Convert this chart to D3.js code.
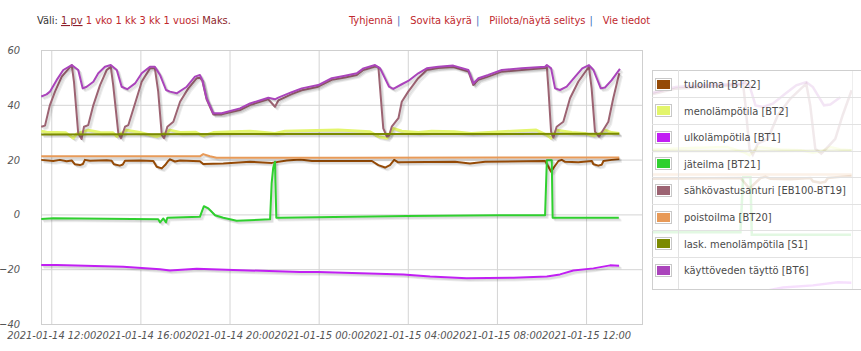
<!DOCTYPE html>
<html>
<head>
<meta charset="utf-8">
<script src="https://cdn.jsdelivr.net/npm/d3@7"></script>
<style>
body{margin:0;background:#fff;}
svg{display:block;}
</style>
</head>
<body>
<div id="chart"></div>
<script>
// data points: [hours since 2021-01-14 00:00, °C]
const tuloilma = [[11.55,19.9],[12.09,19.5],[12.39,19.9],[12.69,19.4],[12.92,19.7],[13.06,18.3],[13.29,18.0],[13.42,18.4],[13.51,19.9],[13.74,19.6],[14.49,19.8],[14.71,19.6],[14.81,18.3],[15.08,17.8],[15.21,18.2],[15.31,19.6],[15.98,19.7],[16.58,19.5],[16.73,17.4],[16.96,16.8],[17.11,18.0],[17.25,19.5],[17.33,20.1],[17.55,19.3],[17.78,19.7],[18.67,19.4],[18.82,18.4],[19.72,18.6],[20.92,19.2],[21.9,18.8],[22.57,19.7],[23.17,20.0],[23.7,19.5],[26.39,19.5],[26.68,18.0],[26.98,17.1],[27.2,18.0],[27.39,19.9],[27.57,19.0],[30.12,19.2],[30.79,18.6],[31.47,19.2],[34.16,19.5],[34.31,17.4],[34.43,15.6],[34.56,17.2],[34.76,19.5],[34.91,19.9],[35.06,19.2],[35.65,19.0],[36.26,19.5],[36.33,18.3],[36.55,17.8],[36.7,18.1],[36.78,19.5],[37.15,19.9],[37.49,20.2]];
const menolampotila = [[11.55,30.4],[11.79,30.0],[12.66,29.8],[12.99,27.8],[13.14,29.4],[13.66,30.8],[14.19,29.9],[14.77,29.8],[14.94,28.4],[15.08,29.2],[15.38,30.8],[15.98,29.9],[16.73,28.4],[16.97,29.0],[17.33,30.8],[17.78,29.9],[18.49,30.0],[18.82,28.7],[19.27,29.9],[20.17,30.2],[20.92,30.4],[22.04,29.6],[22.49,30.4],[24.88,30.8],[26.3,30.2],[26.68,28.4],[27.06,27.8],[27.35,31.4],[27.73,30.4],[28.47,29.9],[29.07,30.4],[30.09,30.2],[30.84,29.6],[32.67,30.4],[33.76,30.8],[34.24,29.0],[34.43,27.8],[34.68,30.8],[35.36,29.9],[35.95,29.6],[36.33,28.7],[36.58,29.2],[36.85,30.8],[37.15,29.9],[37.49,29.6]];
const ulkolampotila = [[11.55,-18.5],[12.24,-18.5],[15.23,-19.1],[16.88,-20.0],[17.33,-20.5],[18.53,-19.8],[20.17,-20.3],[23.16,-21.0],[23.98,-21.0],[27.8,-21.9],[29.0,-22.7],[30.64,-23.3],[32.74,-23.1],[34.24,-22.7],[34.83,-21.9],[35.43,-20.5],[36.33,-19.7],[37.08,-18.6],[37.48,-18.7]];
const jateilma = [[11.55,-1.7],[12.09,-1.4],[16.8,-1.8],[16.88,-2.9],[17.03,-1.5],[17.15,-2.9],[17.21,-1.2],[18.67,-0.9],[18.85,3.0],[19.05,2.2],[19.35,-0.3],[19.72,-1.2],[20.32,-2.3],[21.82,-1.8],[21.89,11.3],[21.96,17.0],[22.04,19.2],[22.1,-1.2],[22.26,-1.2],[27.95,-0.6],[31.99,-0.3],[34.16,-0.3],[34.24,19.8],[34.46,19.8],[34.5,-1.2],[37.47,-1.2]];
const sahkovastus = [[11.55,32.0],[11.72,32.4],[11.94,39.9],[12.17,44.8],[12.47,50.3],[12.92,54.5],[13.02,48.4],[13.21,29.6],[13.36,27.5],[13.47,32.0],[13.66,32.6],[13.89,39.9],[14.19,47.2],[14.49,52.7],[14.67,53.9],[14.78,47.2],[15.01,29.6],[15.13,27.8],[15.31,32.0],[15.46,32.6],[15.76,40.5],[16.06,48.4],[16.43,53.3],[16.65,53.3],[16.8,44.8],[16.96,29.0],[17.06,27.8],[17.21,32.0],[17.48,33.8],[17.78,41.1],[18.15,46.0],[18.53,49.7],[18.67,49.9],[18.78,48.8],[18.97,42.0],[19.27,36.5],[19.65,36.5],[20.47,38.1],[20.92,39.9],[21.74,42.0],[22.04,39.3],[22.19,41.6],[22.79,43.9],[23.24,45.3],[23.98,46.6],[24.59,49.1],[25.18,50.0],[25.71,50.9],[26.01,52.7],[26.53,54.0],[26.68,53.8],[26.9,31.4],[27.06,28.4],[27.16,28.8],[27.28,32.0],[27.58,35.1],[27.73,41.1],[28.02,44.8],[28.47,49.7],[28.85,52.7],[29.37,53.4],[30.04,53.8],[30.72,52.1],[30.94,47.2],[31.17,49.1],[31.61,50.3],[32.22,52.1],[33.11,52.7],[34.16,53.4],[34.24,53.8],[34.31,46.0],[34.43,30.2],[34.53,28.0],[34.68,32.0],[34.98,33.8],[35.28,42.4],[35.65,48.4],[36.13,53.9],[36.25,46.0],[36.4,30.2],[36.58,28.4],[36.77,30.8],[37.0,33.8],[37.22,42.4],[37.49,51.5]];
const poistoilma = [[11.55,21.2],[16.43,21.2],[18.67,21.2],[18.82,22.0],[19.12,21.2],[19.42,20.7],[25.41,20.7],[32.13,20.8],[37.49,20.8]];
const laskMeno = [[11.55,29.2],[20.0,29.3],[30.0,29.3],[37.49,29.4]];
const kayttovesi = [[11.55,43.0],[11.79,43.8],[11.94,44.8],[12.24,49.0],[12.54,52.7],[12.92,54.5],[13.21,52.7],[13.41,46.0],[13.59,46.6],[13.89,48.4],[14.11,51.5],[14.41,53.9],[14.67,54.5],[14.94,52.7],[15.16,46.6],[15.41,45.7],[15.76,47.8],[16.06,51.5],[16.43,53.9],[16.65,53.9],[16.88,50.9],[17.15,45.4],[17.33,44.8],[17.63,44.2],[18.08,46.6],[18.45,50.3],[18.67,50.9],[18.78,49.0],[18.97,42.4],[19.27,36.9],[19.65,36.9],[20.47,38.7],[20.92,40.5],[21.74,42.6],[22.04,42.0],[22.19,42.6],[22.79,44.6],[23.24,46.0],[23.98,47.2],[24.59,49.7],[25.18,50.6],[25.71,51.5],[26.01,53.3],[26.53,54.5],[26.76,53.3],[27.16,46.6],[27.35,45.8],[27.73,47.5],[28.02,48.7],[28.47,51.5],[28.85,53.3],[29.37,53.9],[30.04,54.3],[30.72,52.7],[30.94,47.8],[31.17,49.7],[31.61,50.9],[32.22,52.7],[33.11,53.3],[34.16,53.9],[34.24,54.5],[34.43,53.3],[34.61,46.0],[34.83,45.4],[35.13,46.6],[35.51,50.3],[35.83,53.3],[36.13,54.5],[36.33,52.7],[36.66,46.0],[36.85,46.3],[37.15,49.0],[37.52,53.1]];

const seriesData = [tuloilma, menolampotila, ulkolampotila, jateilma, sahkovastus, poistoilma, laskMeno, kayttovesi];
const seriesNames = ["tuloilma [BT22]","menolämpötila [BT2]","ulkolämpötila [BT1]","jäteilma [BT21]","sähkövastusanturi [EB100-BT19]","poistoilma [BT20]","lask. menolämpötila [S1]","käyttöveden täyttö [BT6]"];
const seriesColors = ["#954a06","#e3f56c","#c11ff3","#2fd02f","#9c6372","#e89a58","#7b8a00","#aa44bb"];
const yTicks = [-40,-20,0,20,40,60];
const xTickHours = [12,16,20,24,28,32,36];
const xDomainHours = [11.54,38.51];
const rangeLinks = ["1 pv","1 vko","1 kk","3 kk","1 vuosi","Maks."];
const actionLinks = ["Tyhjennä","Sovita käyrä","Piilota/näytä selitys","Vie tiedot"];

const W = 861, H = 351;
const plot = {l:41, t:50, r:642, b:324};
const base = new Date(2021,0,14).getTime();
const toDate = h => new Date(base + h*3600e3);
const font = "'DejaVu Sans Condensed','DejaVu Sans',sans-serif";

const svg = d3.select("#chart").append("svg")
    .attr("width",W).attr("height",H)
    .style("font-family",font);

const x = d3.scaleTime().domain(xDomainHours.map(toDate)).range([plot.l,plot.r]);
const y = d3.scaleLinear().domain([-40,60]).range([plot.b,plot.t]);

// header
let head = svg.append("text").attr("x",37).attr("y",24).attr("font-size",11);
head.append("tspan").attr("fill","#333").text("Väli: ");
rangeLinks.forEach((t,i)=>{
    let ts = head.append("tspan").text((i>0?" ":"")+t)
        .attr("fill", (i==0||i==rangeLinks.length-1) ? "#8e1f2c" : "#c0282d");
    if (i==0) ts.attr("text-decoration","underline");
});
let acts = svg.append("text").attr("x",349).attr("y",24).attr("font-size",11);
actionLinks.forEach((t,i)=>{
    if (i>0){
        acts.append("tspan").attr("dx",4).attr("fill","#3a6fc0").text("|");
        acts.append("tspan").attr("dx",10).attr("fill","#c0282d").text(t);
    } else {
        acts.append("tspan").attr("fill","#c0282d").text(t);
    }
});

// grid
svg.append("g")
    .attr("transform",`translate(0,${plot.b})`)
    .call(d3.axisBottom(x).tickValues(xTickHours.map(toDate)).tickSize(-(plot.b-plot.t)).tickFormat(""))
    .call(g=>g.select(".domain").remove())
    .selectAll("line").attr("stroke","#d4d4d4");
svg.append("g")
    .attr("transform",`translate(${plot.l},0)`)
    .call(d3.axisLeft(y).tickValues(yTicks).tickSize(-(plot.r-plot.l)).tickFormat(""))
    .call(g=>g.select(".domain").remove())
    .selectAll("line").attr("stroke","#d4d4d4");
svg.append("rect")
    .attr("x",plot.l+0.5).attr("y",plot.t+0.5)
    .attr("width",plot.r-plot.l).attr("height",plot.b-plot.t)
    .attr("fill","none").attr("stroke","#cfcfcf");

// axis labels
let xAxis = svg.append("g")
    .attr("transform",`translate(0,${plot.b})`)
    .call(d3.axisBottom(x).tickValues(xTickHours.map(toDate))
        .tickFormat(d3.timeFormat("%Y-%m-%d %H:%M")).tickSize(0).tickPadding(7));
xAxis.select(".domain").remove();
xAxis.selectAll("text").attr("fill","#555")
    .style("font-size","11px").style("font-style","italic").style("font-family",font);
let yAxis = svg.append("g")
    .attr("transform",`translate(${plot.l},0)`)
    .call(d3.axisLeft(y).tickValues(yTicks).tickSize(0).tickPadding(21));
yAxis.select(".domain").remove();
yAxis.selectAll("text").attr("fill","#555")
    .style("font-size","11px").style("font-style","italic").style("font-family",font);

// lines
svg.append("clipPath").attr("id","plotclip").append("rect")
    .attr("x",plot.l).attr("y",plot.t-10).attr("width",plot.r-plot.l).attr("height",plot.b-plot.t+10);
let line = d3.line().x(d=>x(toDate(d[0]))).y(d=>y(d[1]));
let lines = svg.append("g").attr("clip-path","url(#plotclip)");
seriesData.forEach((s,i)=>{
    for (let k=1;k<=3;k++){
        lines.append("path").attr("d",line(s))
            .attr("transform",`translate(${k*0.9},${k*0.9})`)
            .attr("fill","none").attr("stroke","#000").attr("stroke-opacity",0.07)
            .attr("stroke-width",2).attr("stroke-linejoin","round");
    }
    lines.append("path").attr("d",line(s))
        .attr("fill","none").attr("stroke",seriesColors[i])
        .attr("stroke-width", i==1 ? 2.8 : 2).attr("stroke-linejoin","round");
});

// legend (sits over a wider copy of the chart)
const lg = {x:652, y:70, w:220, h:219, rowH:26.6, row0:70.7};
svg.append("clipPath").attr("id","legclip").append("rect")
    .attr("x",lg.x).attr("y",lg.y).attr("width",lg.w).attr("height",lg.h);
let x2 = d3.scaleTime().domain(x.domain()).range([852-(37.5-xDomainHours[0])*33.4, 852+(xDomainHours[1]-37.5)*33.4]);
let line2 = d3.line().x(d=>x2(toDate(d[0]))).y(d=>y(d[1])+17);
let ghost = svg.append("g").attr("clip-path","url(#legclip)");
ghost.append("rect").attr("x",lg.x).attr("y",lg.y).attr("width",lg.w).attr("height",lg.h).attr("fill","#fff");
seriesData.forEach((s,i)=>{
    ghost.append("path").attr("d",line2(s.filter(d=>d[0]<=37.5)))
        .attr("fill","none").attr("stroke",seriesColors[i])
        .attr("stroke-opacity",0.14).attr("stroke-width",2.5);
});
ghost.append("line").attr("x1",852+0.5).attr("x2",852+0.5).attr("y1",lg.y).attr("y2",lg.y+lg.h).attr("stroke","#eee");

let legend = svg.append("g");
legend.append("rect").attr("x",lg.x+0.5).attr("y",lg.y+0.5).attr("width",lg.w).attr("height",lg.h)
    .attr("fill","none").attr("stroke","#cfcfcf");
legend.append("line").attr("x1",678.5).attr("x2",678.5).attr("y1",lg.y).attr("y2",lg.y+lg.h).attr("stroke","#e2e2e2");
seriesNames.forEach((n,i)=>{
    let cy = lg.row0 + lg.rowH*(i+0.5);
    if (i>0) legend.append("line").attr("x1",lg.x).attr("x2",lg.x+lg.w)
        .attr("y1",Math.round(lg.row0+lg.rowH*i)+0.5).attr("y2",Math.round(lg.row0+lg.rowH*i)+0.5)
        .attr("stroke","#e2e2e2");
    legend.append("rect").attr("x",655.5).attr("y",Math.round(cy-6.5)+0.5).attr("width",16).attr("height",12)
        .attr("fill","#fff").attr("stroke","#c8c8c8");
    legend.append("rect").attr("x",657).attr("y",Math.round(cy-6.5)+2).attr("width",13).attr("height",9)
        .attr("fill",seriesColors[i]);
    legend.append("text").attr("x",684).attr("y",cy+4).attr("font-size",11)
        .attr("fill","#4a4a4a").text(n);
});
</script>
</body>
</html>
